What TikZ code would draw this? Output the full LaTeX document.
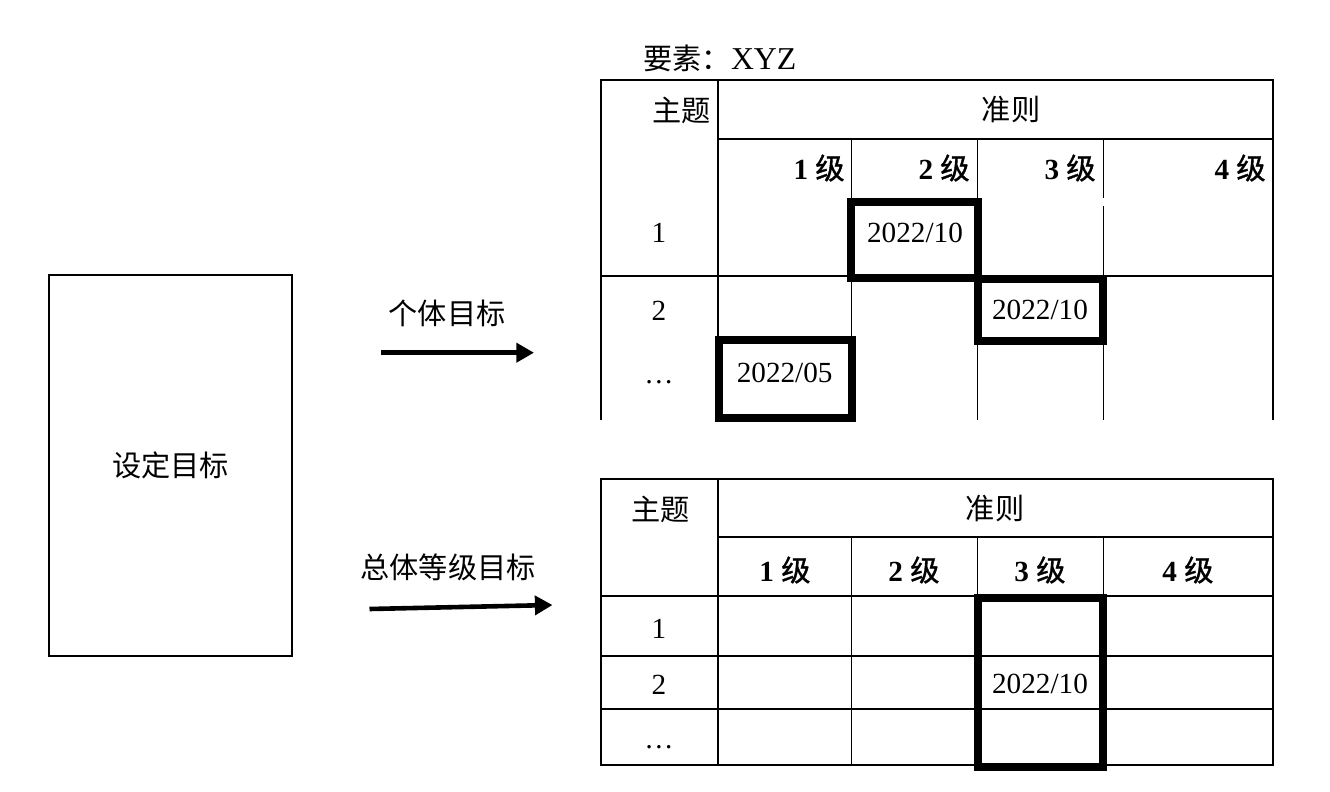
\documentclass[tikz,border=0pt]{standalone}
\usepackage{fontspec}
\setmainfont{Liberation Serif}
\newfontfamily\cjk{Noto Sans CJK SC}
\newfontfamily\cjkb[FakeBold=1.2]{Noto Sans CJK SC}
\usetikzlibrary{arrows.meta}
\begin{document}
\begin{tikzpicture}[x=0.5pt,y=-0.5pt,
  grid/.style={line width=0.6pt, line cap=rect},
  thickbox/.style={line width=4pt},
  txt/.style={font=\fontsize{14.6}{17}\selectfont, inner sep=0pt},
  zh/.style={font=\fontsize{14.6}{17}\selectfont\cjk, inner sep=0pt},
  hd/.style={font=\fontsize{14.6}{17}\selectfont\bfseries, inner sep=0pt},
  arr/.style={line width=2.3pt, -{Triangle[length=8.8pt,width=9.4pt]}}]
\path[use as bounding box] (0,0) rectangle (1330,792);

% ---------- left box ----------
\node[draw, line width=0.75pt, zh, minimum width=121.5pt, minimum height=190.4pt] (set) at (170.6,465.4) {设定目标};

% ---------- arrows ----------
\node[zh] (lab1) at (447,313) {个体目标};
\coordinate (a1s) at (381,352.7);
\coordinate (a1e) at (534,352.7);
\draw[arr] (a1s) -- (a1e);

\node[zh] (lab2) at (448,567) {总体等级目标};
\coordinate (a2s) at (369.5,609);
\coordinate (a2e) at (552.5,605);
\draw[arr] (a2s) -- (a2e);

% ---------- top table ----------
\node[txt, anchor=west] (xyz) at (643,58) {{\cjk 要素：}\fontsize{15.9}{17}\selectfont XYZ};
\draw[grid] (601,80) -- (1273,80);
\draw[grid] (601,80) -- (601,419);
\draw[grid] (718,80) -- (718,419);
\draw[grid] (1273,80) -- (1273,419);
\draw[grid] (718,139) -- (1273,139);
\draw[grid] (601,276) -- (1273,276);
\draw[grid] (851.5,139) -- (851.5,419);
\draw[grid] (977.5,139) -- (977.5,419);
\draw[grid] (1103.5,139) -- (1103.5,197) (1103.5,207) -- (1103.5,419);

\draw[thickbox] (851,201.7) rectangle (978,278);
\draw[thickbox] (978,278.7) rectangle (1103,340.7);
\draw[thickbox] (719,339.7) rectangle (851.7,418);

\node[zh, anchor=east] (t1subj) at (711,110) {主题};
\node[zh] (t1crit) at (1011,110) {准则};
\node[hd, anchor=east] (t1h1) at (845,168) {1 {\mdseries\cjkb 级}};
\node[hd, anchor=east] (t1h2) at (970,168) {2 {\mdseries\cjkb 级}};
\node[hd, anchor=east] (t1h3) at (1096,168) {3 {\mdseries\cjkb 级}};
\node[hd, anchor=east] (t1h4) at (1266,168) {4 {\mdseries\cjkb 级}};
\node[txt] (t1r1) at (659,233) {1};
\node[txt] (t1r2) at (659,311) {2};
\node[txt, anchor=base] (t1r3) at (659,383) {…};
\node[txt] (t1a) at (915,233.3) {2022/10};
\node[txt] (t1b) at (1040,310) {2022/10};
\node[txt] (t1c) at (784.7,373.3) {2022/05};

% ---------- bottom table ----------
\draw[grid] (601,479) -- (1273,479);
\draw[grid] (718,537) -- (1273,537);
\draw[grid] (601,596) -- (1273,596);
\draw[grid] (601,656) -- (1273,656);
\draw[grid] (601,709) -- (1273,709);
\draw[grid] (601,765) -- (1273,765);
\draw[grid] (601,479) -- (601,765);
\draw[grid] (718,479) -- (718,765);
\draw[grid] (1273,479) -- (1273,765);
\draw[grid] (851.5,537) -- (851.5,765);
\draw[grid] (977.5,537) -- (977.5,765);
\draw[grid] (1103.5,537) -- (1103.5,765);

\draw[thickbox] (977.8,598.3) rectangle (1103,766.7);

\node[zh] (t2subj) at (660.7,509) {主题};
\node[zh] (t2crit) at (995,509) {准则};
\node[hd] (t2h1) at (785,570) {1 {\mdseries\cjkb 级}};
\node[hd] (t2h2) at (914,570) {2 {\mdseries\cjkb 级}};
\node[hd] (t2h3) at (1040,570) {3 {\mdseries\cjkb 级}};
\node[hd] (t2h4) at (1188,570) {4 {\mdseries\cjkb 级}};
\node[txt] (t2r1) at (659,629) {1};
\node[txt] (t2r2) at (659,685) {2};
\node[txt, anchor=base] (t2r3) at (659,748) {…};
\node[txt] (t2a) at (1040,684) {2022/10};
\end{tikzpicture}
\end{document}
